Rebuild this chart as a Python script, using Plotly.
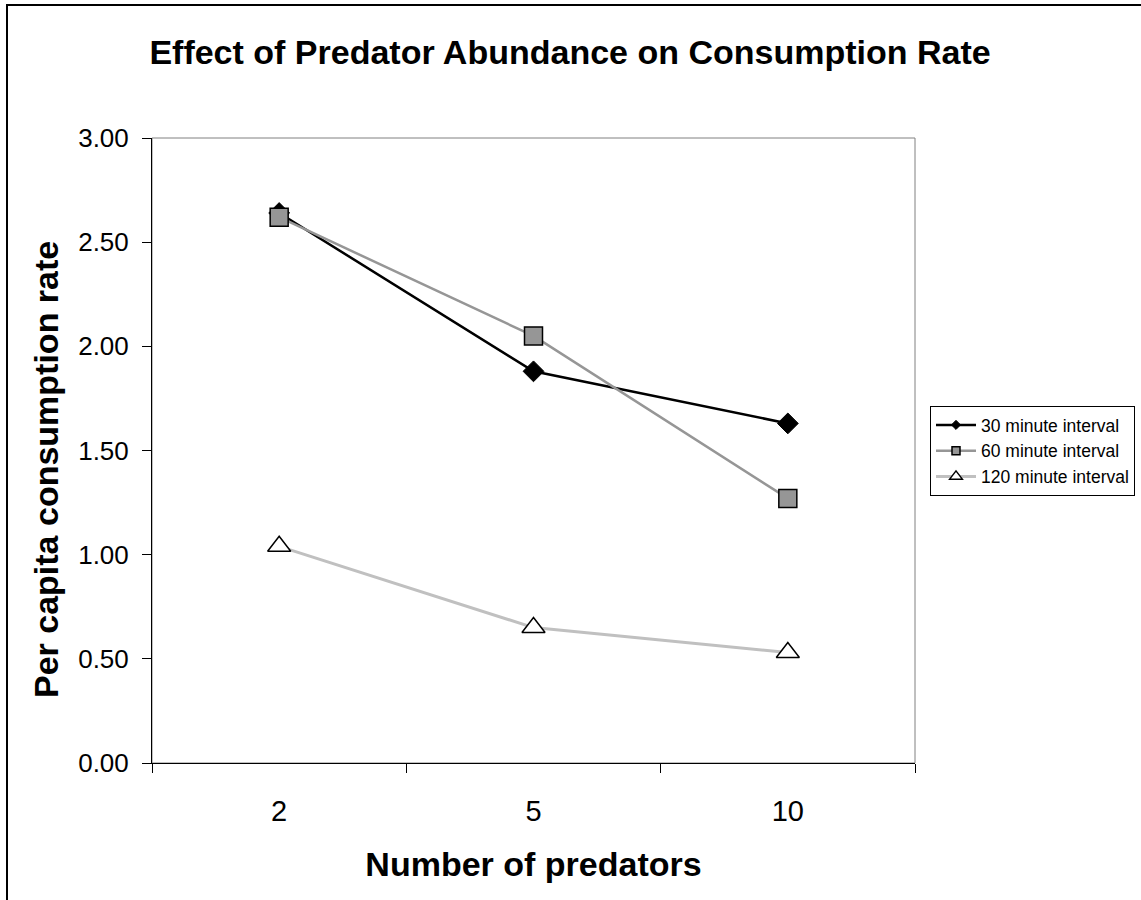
import plotly.graph_objects as go

# Predator counts (categorical x axis) and per-capita consumption rates
predators = ["2", "5", "10"]
series_names = ["30 minute interval", "60 minute interval", "120 minute interval"]
rate_30min = [2.64, 1.88, 1.63]
rate_60min = [2.62, 2.05, 1.27]
rate_120min = [1.04, 0.65, 0.53]
y_ticks = [0.0, 0.5, 1.0, 1.5, 2.0, 2.5, 3.0]

FONT = "Liberation Sans, Arial, sans-serif"

W, H = 1141, 900
L, R, T, B = 152, 915, 138, 763  # plot-area edges in pixels
pw, ph = R - L, B - T


def px_x(x):
    return (x - L) / pw


def px_y(y):
    return (B - y) / ph


styles = [
    dict(line=dict(color="#000000", width=2.5),
         marker=dict(symbol="diamond", color="#000000",
                     line=dict(color="#000000", width=1)),
         size=16, legend_size=7),
    dict(line=dict(color="#969696", width=2.5),
         marker=dict(symbol="square", color="#969696",
                     line=dict(color="#000000", width=1.5)),
         size=18, legend_size=8),
    dict(line=dict(color="#C0C0C0", width=3),
         marker=dict(symbol="triangle-up", color="#FFFFFF",
                     line=dict(color="#000000", width=1.5)),
         size=20, legend_size=11),
]

fig = go.Figure()

for name, values, st in zip(series_names, [rate_30min, rate_60min, rate_120min], styles):
    fig.add_trace(go.Scatter(
        x=predators, y=values, name=name, legendgroup=name,
        mode="lines+markers", showlegend=False,
        line=st["line"], marker=dict(st["marker"], size=st["size"]),
    ))
    # legend key with smaller symbols
    fig.add_trace(go.Scatter(
        x=[None], y=[None], name=name, legendgroup=name,
        mode="lines+markers", showlegend=True,
        line=st["line"], marker=dict(st["marker"], size=st["legend_size"]),
    ))

# chart-area frame and plot-area border
fig.add_shape(type="rect", xref="paper", yref="paper",
              x0=px_x(7), x1=px_x(1170), y0=px_y(930), y1=px_y(5),
              line=dict(color="#000000", width=2), fillcolor="rgba(0,0,0,0)",
              layer="below")
fig.add_shape(type="rect", xref="paper", yref="paper",
              x0=0, x1=1, y0=0, y1=1,
              line=dict(color="#808080", width=1), fillcolor="rgba(0,0,0,0)",
              layer="below")

# vertical axis title
fig.add_annotation(
    text="<b>Per capita consumption rate</b>", textangle=-90,
    xref="paper", yref="paper", x=px_x(46), y=px_y(470),
    xanchor="center", yanchor="middle", showarrow=False,
    font=dict(size=34, family=FONT, color="#000000"),
)

fig.update_layout(
    width=W, height=H,
    margin=dict(l=L, r=W - R, t=T, b=H - B, pad=0, autoexpand=False),
    paper_bgcolor="#FFFFFF", plot_bgcolor="#FFFFFF",
    font=dict(family=FONT, color="#000000"),
    title=dict(text="<b>Effect of Predator Abundance on Consumption Rate</b>",
               x=570 / W, xanchor="center", y=1 - 52 / H, yanchor="middle",
               font=dict(size=34, family=FONT, color="#000000")),
    showlegend=True,
    legend=dict(x=px_x(930), y=px_y(406), xanchor="left", yanchor="top",
                bordercolor="#000000", borderwidth=1, bgcolor="#FFFFFF",
                font=dict(size=17.5, family=FONT, color="#000000"),
                tracegroupgap=0, itemwidth=40),
)

fig.update_xaxes(
    type="category", range=[-0.5, 2.5], automargin=False,
    tickson="boundaries", ticks="outside", ticklen=9, tickcolor="#000000",
    showline=True, linecolor="#000000", linewidth=1,
    showgrid=False, zeroline=False,
    tickfont=dict(size=29, family=FONT, color="#000000"),
    ticklabelstandoff=22,
    title=dict(text="<b>Number of predators</b>", standoff=26,
               font=dict(size=34, family=FONT, color="#000000")),
)
fig.update_yaxes(
    range=[0, 3], tickvals=y_ticks, automargin=False,
    ticktext=[f"{v:.2f}" for v in y_ticks],
    ticks="outside", ticklen=9, tickcolor="#000000",
    showline=True, linecolor="#000000", linewidth=1,
    showgrid=False, zeroline=False,
    tickfont=dict(size=26, family=FONT, color="#000000"),
    ticklabelstandoff=8,
)

fig.write_html("out.html")
